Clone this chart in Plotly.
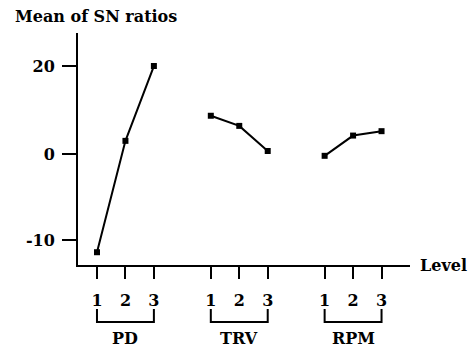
import plotly.graph_objects as go

# Data
factors = ["PD", "TRV", "RPM"]
levels = ["1", "2", "3"]
pd_vals = [-22.3, 3.0, 20.0]
trv_vals = [8.7, 6.4, 0.7]
rpm_vals = [-0.4, 4.2, 5.2]
y_tick_vals = [20, 0, -19.5]
y_tick_text = ["20", "0", "-10"]

series = [pd_vals, trv_vals, rpm_vals]
group_gap = 4  # each factor occupies 3 level slots + 1 blank slot

FONT = "DejaVu Serif"
fig = go.Figure()
xtv, xtt = [], []
for gi, (name, vals) in enumerate(zip(factors, series)):
    xs = [gi * group_gap + i for i in range(len(levels))]
    xtv += xs
    xtt += levels
    fig.add_trace(go.Scatter(
        x=xs, y=vals, mode="lines+markers", name=name,
        line=dict(color="black", width=2),
        marker=dict(symbol="square", size=6, color="black"),
        showlegend=False,
    ))
    # bracket under the level ticks
    x0, x1 = xs[0], xs[-1]
    fig.add_shape(type="path", xref="x", yref="paper",
                  path=f"M {x0},-0.19 L {x0},-0.246 L {x1},-0.246 L {x1},-0.19",
                  line=dict(color="black", width=2))
    fig.add_annotation(x=(x0 + x1) / 2, y=-0.315, xref="x", yref="paper",
                       text=f"<b>{name}</b>", showarrow=False,
                       font=dict(family=FONT, size=16, color="black"),
                       xanchor="center", yanchor="middle")

fig.add_annotation(x=1.024, y=0, xref="paper", yref="paper", text="<b>Level</b>",
                   showarrow=False, xanchor="left", yanchor="middle",
                   font=dict(family=FONT, size=16, color="black"))
fig.add_annotation(x=-0.196, y=1.073, xref="paper", yref="paper",
                   text="<b>Mean of SN ratios</b>", showarrow=False,
                   xanchor="left", yanchor="middle",
                   font=dict(family=FONT, size=16, color="black"))

fig.update_xaxes(range=[-0.667, 11], showline=True, linecolor="black", linewidth=2,
                 showgrid=False, zeroline=False, tickmode="array", tickvals=xtv,
                 ticktext=[f"<b>{t}</b>" for t in xtt], ticks="outside", ticklen=12,
                 tickwidth=2, tickcolor="black", ticklabelstandoff=8,
                 tickfont=dict(family=FONT, size=16, color="black"))
fig.update_yaxes(range=[-25.2, 27.5], showline=True, linecolor="black", linewidth=2,
                 showgrid=False, zeroline=False, tickmode="array", tickvals=y_tick_vals,
                 ticktext=[f"<b>{t}</b>" for t in y_tick_text], ticks="outside", ticklen=14,
                 tickwidth=2, tickcolor="black", ticklabelstandoff=4,
                 tickfont=dict(family=FONT, size=16, color="black"))
fig.update_layout(width=473, height=347, margin=dict(l=78, r=63, t=33, b=82),
                  plot_bgcolor="white", paper_bgcolor="white")
fig.write_html("out.html")
